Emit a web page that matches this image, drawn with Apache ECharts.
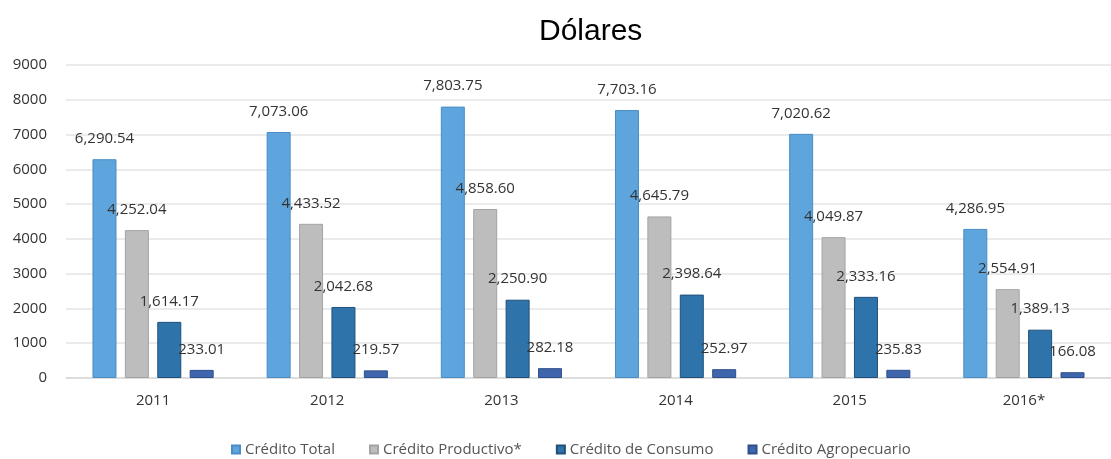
<!DOCTYPE html>
<html>
<head>
<meta charset="utf-8">
<script src="https://cdn.jsdelivr.net/npm/echarts@6/dist/echarts.min.js"></script>
<style>
  html, body { margin: 0; padding: 0; background: #fff; }
  #chart { width: 1111px; height: 459px; }
</style>
</head>
<body>
<div id="chart"></div>
<script>
// Crédito en dólares por año y tipo
const years = ['2011', '2012', '2013', '2014', '2015', '2016*'];
const creditoTotal = [6290.54, 7073.06, 7803.75, 7703.16, 7020.62, 4286.95];
const creditoProductivo = [4252.04, 4433.52, 4858.60, 4645.79, 4049.87, 2554.91];
const creditoConsumo = [1614.17, 2042.68, 2250.90, 2398.64, 2333.16, 1389.13];
const creditoAgropecuario = [233.01, 219.57, 282.18, 252.97, 235.83, 166.08];
const seriesNames = ['Crédito Total', 'Crédito Productivo*', 'Crédito de Consumo', 'Crédito Agropecuario'];

const fmt = new Intl.NumberFormat('en-US', { minimumFractionDigits: 2, maximumFractionDigits: 2 });
const font = '"Open Sans", "Noto Sans", sans-serif';

function barSeries(name, data, fill, border) {
  return {
    name: name,
    type: 'bar',
    data: data,
    barWidth: 24,
    barGap: '35%',
    itemStyle: { color: fill, borderColor: border, borderWidth: 1 },
    label: {
      show: true,
      position: 'top',
      distance: 13,
      color: '#333',
      fontFamily: font,
      fontSize: 15,
      formatter: p => fmt.format(p.value)
    }
  };
}

const chart = echarts.init(document.getElementById('chart'), null, { renderer: 'canvas' });
chart.setOption({
  animation: false,
  backgroundColor: '#fff',
  title: {
    text: 'Dólares',
    left: 534,
    top: 12,
    textStyle: { fontFamily: '"Liberation Sans", Arial, sans-serif', fontSize: 30, fontWeight: 'normal', color: '#000' }
  },
  legend: {
    data: seriesNames,
    left: 226,
    top: 437,
    icon: 'rect',
    itemWidth: 8,
    itemHeight: 8,
    itemGap: 34,
    textStyle: { fontFamily: font, fontSize: 15, color: '#555' }
  },
  grid: { left: 66, right: -9, top: 65, bottom: 81 },
  xAxis: {
    type: 'category',
    data: years,
    axisTick: { show: false },
    axisLine: { lineStyle: { color: '#d9d9d9', width: 1.5 } },
    axisLabel: { margin: 15, fontFamily: font, fontSize: 15, color: '#333' }
  },
  yAxis: {
    type: 'value',
    min: 0,
    max: 9000,
    interval: 1000,
    axisLine: { show: false },
    axisTick: { show: false },
    splitLine: { lineStyle: { color: '#e4e4e4', width: 1.5 } },
    axisLabel: { margin: 19, fontFamily: font, fontSize: 15, color: '#333', formatter: v => String(v) }
  },
  series: [
    barSeries(seriesNames[0], creditoTotal, '#5da5dc', '#4a8cc3'),
    barSeries(seriesNames[1], creditoProductivo, '#bdbdbd', '#a3a3a3'),
    barSeries(seriesNames[2], creditoConsumo, '#2e74ab', '#1f4f7a'),
    barSeries(seriesNames[3], creditoAgropecuario, '#3f66ad', '#2f4f8c')
  ]
});
</script>
</body>
</html>
